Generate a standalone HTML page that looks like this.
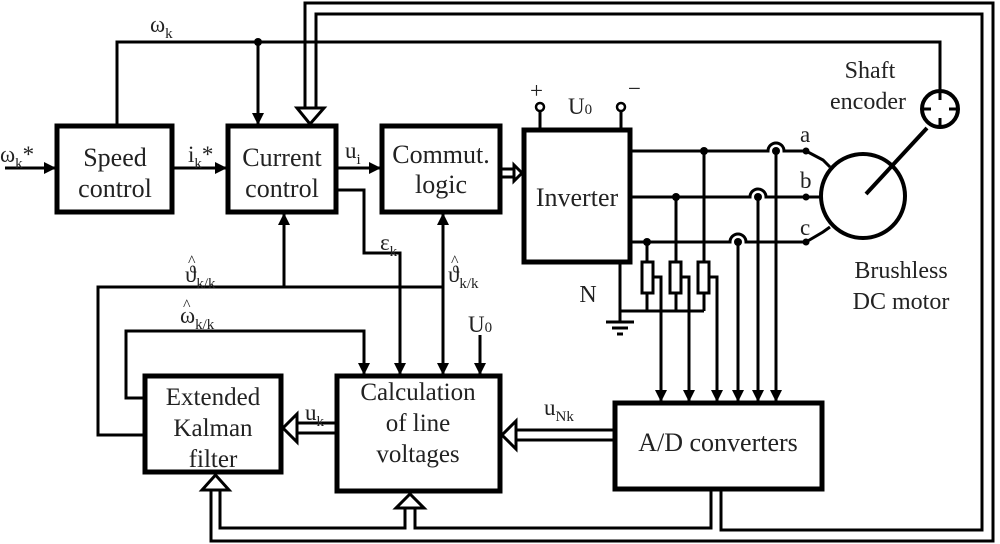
<!DOCTYPE html>
<html><head><meta charset="utf-8"><style>
body{margin:0;background:#fff}
svg{display:block}
text{font-family:"Liberation Serif","DejaVu Serif",serif;fill:#222}
</style></head><body>
<svg width="1000" height="544" viewBox="0 0 1000 544" xmlns="http://www.w3.org/2000/svg">
<defs>
<marker id="a" markerWidth="12" markerHeight="12" refX="11" refY="6" orient="auto" markerUnits="userSpaceOnUse"><path d="M0,0 L12,6 L0,12 z" fill="#000"/></marker>
</defs>
<g fill="none" stroke="#000" stroke-width="5">
<rect x="57" y="126" width="115" height="86"/>
<rect x="228" y="126" width="108" height="86"/>
<rect x="382" y="126" width="118" height="86"/>
<rect x="524" y="130" width="106" height="132"/>
<rect x="145" y="376" width="136" height="96"/>
<rect x="337" y="376" width="163" height="115"/>
<rect x="615" y="403" width="207" height="86"/>
</g>
<g fill="none" stroke="#000" stroke-width="3">
<polyline points="117,126 117,42 940,42 940,90"/>
<line x1="258" y1="42" x2="258" y2="124" marker-end="url(#a)"/>
<line x1="5" y1="168" x2="55" y2="168" marker-end="url(#a)"/>
<line x1="172" y1="168" x2="226" y2="168" marker-end="url(#a)"/>
<line x1="336" y1="168" x2="380" y2="168" marker-end="url(#a)"/>
<polyline points="336,190 364,190 364,253 400,253 400,374" marker-end="url(#a)"/>
<polyline points="145,435 98,435 98,287 443,287"/>
<line x1="284" y1="287" x2="284" y2="214" marker-end="url(#a)"/>
<line x1="443" y1="290" x2="443" y2="214" marker-end="url(#a)"/>
<line x1="443" y1="285" x2="443" y2="374" marker-end="url(#a)"/>
<polyline points="145,398 126,398 126,331 364,331 364,374" marker-end="url(#a)"/>
<line x1="480" y1="335" x2="480" y2="374" marker-end="url(#a)"/>
<line x1="540" y1="130" x2="540" y2="112"/>
<line x1="621" y1="130" x2="621" y2="112"/>
<circle cx="540" cy="107" r="4" stroke-width="2.5"/>
<circle cx="621" cy="107" r="4" stroke-width="2.5"/>
<path d="M630,151 H768 A8,8 0 0 1 784,151 H806"/>
<path d="M630,197 H750 A8,8 0 0 1 766,197 H806"/>
<path d="M630,242 H730 A8,8 0 0 1 746,242 H806"/>
<polyline points="806,151 823,160 830,167"/>
<line x1="806" y1="197" x2="820" y2="197"/>
<polyline points="806,242 823,232 830,227"/>
<circle cx="863" cy="196" r="42" stroke-width="4"/>
<line x1="866" y1="194" x2="927" y2="128" stroke-width="4"/>
<circle cx="940" cy="109" r="18" stroke-width="4"/>
<line x1="704" y1="151" x2="704" y2="262"/>
<line x1="676" y1="197" x2="676" y2="262"/>
<line x1="647" y1="242" x2="647" y2="262"/>
<rect x="642" y="262" width="11" height="31"/>
<rect x="670" y="262" width="11" height="31"/>
<rect x="698" y="262" width="11" height="31"/>
<polyline points="647,293 647,311"/><polyline points="676,293 676,311"/><polyline points="704,293 704,311"/>
<polyline points="620,262 620,311 704,311"/>
<line x1="620" y1="311" x2="620" y2="322"/>
<line x1="606" y1="322" x2="634" y2="322"/>
<line x1="612" y1="328" x2="628" y2="328"/>
<line x1="617" y1="334" x2="623" y2="334"/>
<polyline points="653,277 661,277 661,401" marker-end="url(#a)"/>
<polyline points="681,277 689,277 689,401" marker-end="url(#a)"/>
<polyline points="709,277 717,277 717,401" marker-end="url(#a)"/>
<line x1="738" y1="242" x2="738" y2="401" marker-end="url(#a)"/>
<line x1="758" y1="197" x2="758" y2="401" marker-end="url(#a)"/>
<line x1="776" y1="151" x2="776" y2="401" marker-end="url(#a)"/>
<polyline points="211,490 211,541 993,541 993,3 305,3 305,108"/>
<polyline points="316,108 316,14 982,14 982,530 721,530 721,489"/>
<polyline points="711,489 711,528 415,528 415,508"/>
<polyline points="405,508 405,528 220,528 220,490"/>
<path d="M297,108 L324,108 L310,124 z" fill="#fff"/>
<path d="M202,490 L229,490 L215.5,475 z" fill="#fff"/>
<path d="M396,508 L424,508 L410,494 z" fill="#fff"/>
<polyline points="336,423 297,423"/><polyline points="336,433 297,433"/>
<path d="M297,414 L297,442 L283,428 z" fill="#fff"/>
<polyline points="614,430 516,430"/><polyline points="614,440 516,440"/>
<path d="M516,421 L516,449 L502,435 z" fill="#fff"/>
<polyline points="502,169 514,169"/><polyline points="502,177 514,177"/>
<path d="M514,165 L514,181 L522,173 z" fill="#fff"/>
</g>
<g fill="#000">
<circle cx="258" cy="42" r="4"/>
<circle cx="704" cy="151" r="4"/><circle cx="676" cy="197" r="4"/><circle cx="647" cy="242" r="4"/>
<circle cx="776" cy="151" r="4"/><circle cx="758" cy="197" r="4"/><circle cx="738" cy="242" r="4"/>
<circle cx="806" cy="151" r="3.5"/><circle cx="806" cy="197" r="3.5"/><circle cx="806" cy="242" r="3.5"/>
</g>
<g stroke="#000" stroke-width="3">
<line x1="940" y1="91" x2="940" y2="100"/><line x1="940" y1="118" x2="940" y2="127"/>
<line x1="922" y1="109" x2="931" y2="109"/><line x1="949" y1="109" x2="958" y2="109"/>
</g>
<g font-size="26" text-anchor="middle">
<text x="115" y="166">Speed</text><text x="115" y="197">control</text>
<text x="282" y="166">Current</text><text x="282" y="197">control</text>
<text x="441" y="163">Commut.</text><text x="441" y="193">logic</text>
<text x="577" y="206">Inverter</text>
<text x="213" y="405" font-size="25">Extended</text><text x="213" y="436" font-size="25">Kalman</text><text x="213" y="467" font-size="25">filter</text>
<text x="418" y="400" font-size="25">Calculation</text><text x="418" y="431" font-size="25">of line</text><text x="418" y="462" font-size="25">voltages</text>
<text x="718" y="451">A/D converters</text>
<text x="870" y="78" font-size="24">Shaft</text><text x="868" y="109" font-size="24">encoder</text>
<text x="901" y="278" font-size="24">Brushless</text><text x="901" y="309" font-size="24">DC motor</text>
<text x="588" y="302" font-size="24">N</text>
</g>
<g font-size="23">
<text x="150" y="32">ω<tspan font-size="15" dy="6">k</tspan></text>
<text x="0" y="162">ω<tspan font-size="15" dy="6">k</tspan><tspan dy="-6">*</tspan></text>
<text x="188" y="162">i<tspan font-size="15" dy="6">k</tspan><tspan dy="-6">*</tspan></text>
<text x="345" y="158">u<tspan font-size="15" dy="6">i</tspan></text>
<text x="380" y="250">ε<tspan font-size="15" dy="6">k</tspan></text>
<text x="185" y="282">ϑ<tspan font-size="15" dy="6">k/k</tspan></text><text x="188" y="266" font-size="16">^</text>
<text x="448" y="282">ϑ<tspan font-size="15" dy="6">k/k</tspan></text><text x="451" y="266" font-size="16">^</text>
<text x="180" y="323">ω<tspan font-size="15" dy="6">k/k</tspan></text><text x="183" y="310" font-size="16">^</text>
<text x="468" y="332">U<tspan font-size="15">0</tspan></text>
<text x="568" y="114">U<tspan font-size="15">0</tspan></text>
<text x="305" y="420">u<tspan font-size="15" dy="6">k</tspan></text>
<text x="544" y="415">u<tspan font-size="15" dy="6">Nk</tspan></text>
<text x="530" y="98">+</text><text x="628" y="96">−</text>
<text x="800" y="142">a</text><text x="800" y="188">b</text><text x="800" y="235">c</text>
</g>
</svg>
</body></html>
